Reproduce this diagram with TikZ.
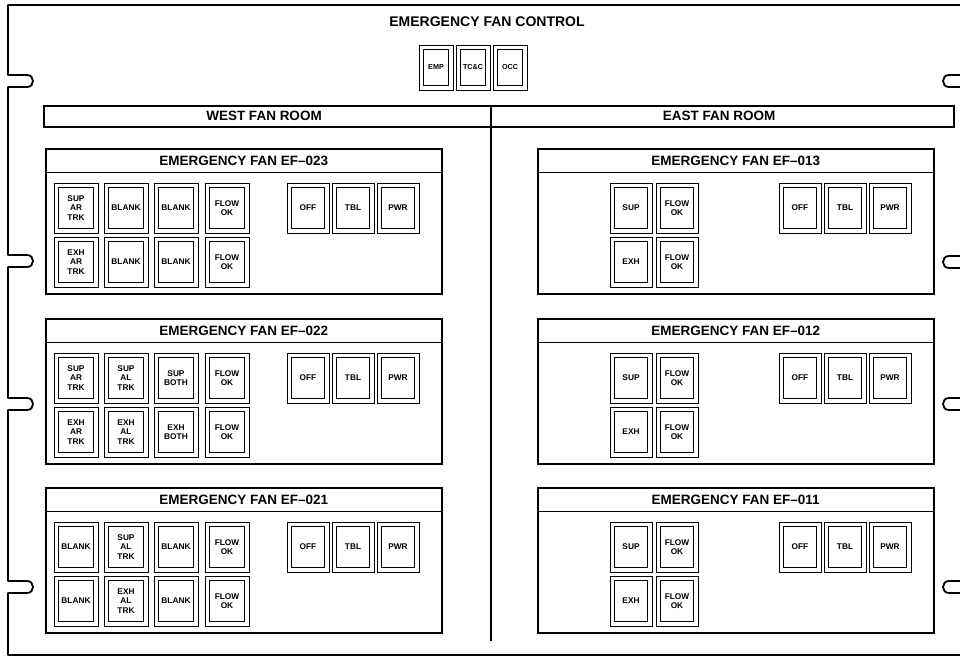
\documentclass[tikz,border=0pt]{standalone}
\usepackage{fontspec}
\setmainfont{Liberation Sans}
\newcommand\fbtn[6]{% name, x, y, w, h, text
  \node[btnout, minimum width=#4pt, minimum height=#5pt] (#1) at (#2,#3) {};
  \node[btnin, minimum width=#4pt-9pt, minimum height=#5pt-9pt] (#1-in) at (#1.center) {#6};
}
\newcommand\fpanel[4]{% name, x0, y0, title
  \node[panelbox, minimum width=396pt, minimum height=145pt, anchor=north west] (#1) at (#2,#3) {};
  \node[panelbar, minimum width=396pt, minimum height=24pt, anchor=north west] (#1-bar) at (#2,#3) {#4};
}
\newcommand\smalltxt{\fontsize{7.2}{8}\selectfont}
\begin{document}
\begin{tikzpicture}[x=1pt,y=-1pt,
  frame/.style={line width=1.8pt, line join=round},
  panelbox/.style={draw, line width=1.8pt, inner sep=0pt},
  panelbar/.style={draw, line width=1.4pt, inner sep=0pt, font=\fontsize{13.5}{14}\selectfont\bfseries},
  hdr/.style={inner sep=0pt, font=\fontsize{13.5}{14}\selectfont\bfseries},
  btnout/.style={draw, line width=0.9pt, inner sep=0pt},
  btnin/.style={draw, line width=1.6pt, inner sep=0pt, align=center,
    font=\fontsize{8.3}{9.3}\selectfont\bfseries},
]
\useasboundingbox (0,0) rectangle (960,659);
% outer frame
\draw[frame] (961,5) -- (8,5) -- (8,75) -- (27,75) .. controls (35,75) and (35,87) .. (27,87) -- (8,87)
  -- (8,255) -- (27,255) .. controls (35,255) and (35,267) .. (27,267) -- (8,267)
  -- (8,398) -- (27,398) .. controls (35,398) and (35,410) .. (27,410) -- (8,410)
  -- (8,581) -- (27,581) .. controls (35,581) and (35,593) .. (27,593) -- (8,593)
  -- (8,655) -- (961,655)
  -- (961,593) -- (949,593) .. controls (941,593) and (941,581) .. (949,581) -- (961,581)
  -- (961,410) -- (949,410) .. controls (941,410) and (941,398) .. (949,398) -- (961,398)
  -- (961,268) -- (949,268) .. controls (941,268) and (941,256) .. (949,256) -- (961,256)
  -- (961,87) -- (949,87) .. controls (941,87) and (941,75) .. (949,75) -- (961,75) -- cycle;
% title
\node[hdr, font=\fontsize{14}{14}\selectfont\bfseries] (title) at (487,22) {EMERGENCY FAN CONTROL};
\fbtn{emp}{436}{67.5}{34}{45}{\smalltxt EMP}
\fbtn{tcc}{473}{67.5}{34}{45}{\smalltxt TC\&C}
\fbtn{occ}{510}{67.5}{34}{45}{\smalltxt OCC}
% room header
\node[panelbox, minimum width=910pt, minimum height=21pt, anchor=north west] (rooms) at (43,105) {};
\coordinate (divtop) at (491,105);
\coordinate (divbot) at (491,641);
\draw[line width=1.5pt] (divtop) -- (divbot);
\node[hdr] (west) at (264,115.5) {WEST FAN ROOM};
\node[hdr] (east) at (719,115.5) {EAST FAN ROOM};
% west panels
\fpanel{p23}{45}{148}{EMERGENCY FAN EF–023}
\fpanel{p22}{45}{318}{EMERGENCY FAN EF–022}
\fpanel{p21}{45}{487}{EMERGENCY FAN EF–021}
% EF-023
\fbtn{a1}{76}{208}{44}{50}{SUP\\AR\\TRK}
\fbtn{a2}{126}{208}{44}{50}{BLANK}
\fbtn{a3}{176}{208}{44}{50}{BLANK}
\fbtn{a4}{227}{208}{44}{50}{FLOW\\OK}
\fbtn{a5}{76}{262}{44}{50}{EXH\\AR\\TRK}
\fbtn{a6}{126}{262}{44}{50}{BLANK}
\fbtn{a7}{176}{262}{44}{50}{BLANK}
\fbtn{a8}{227}{262}{44}{50}{FLOW\\OK}
\fbtn{a9}{308}{208}{42}{50}{OFF}
\fbtn{a10}{353}{208}{42}{50}{TBL}
\fbtn{a11}{398}{208}{42}{50}{PWR}
% EF-022
\fbtn{b1}{76}{378}{44}{50}{SUP\\AR\\TRK}
\fbtn{b2}{126}{378}{44}{50}{SUP\\AL\\TRK}
\fbtn{b3}{176}{378}{44}{50}{SUP\\BOTH}
\fbtn{b4}{227}{378}{44}{50}{FLOW\\OK}
\fbtn{b5}{76}{432}{44}{50}{EXH\\AR\\TRK}
\fbtn{b6}{126}{432}{44}{50}{EXH\\AL\\TRK}
\fbtn{b7}{176}{432}{44}{50}{EXH\\BOTH}
\fbtn{b8}{227}{432}{44}{50}{FLOW\\OK}
\fbtn{b9}{308}{378}{42}{50}{OFF}
\fbtn{b10}{353}{378}{42}{50}{TBL}
\fbtn{b11}{398}{378}{42}{50}{PWR}
% EF-021
\fbtn{c1}{76}{547}{44}{50}{BLANK}
\fbtn{c2}{126}{547}{44}{50}{SUP\\AL\\TRK}
\fbtn{c3}{176}{547}{44}{50}{BLANK}
\fbtn{c4}{227}{547}{44}{50}{FLOW\\OK}
\fbtn{c5}{76}{601}{44}{50}{BLANK}
\fbtn{c6}{126}{601}{44}{50}{EXH\\AL\\TRK}
\fbtn{c7}{176}{601}{44}{50}{BLANK}
\fbtn{c8}{227}{601}{44}{50}{FLOW\\OK}
\fbtn{c9}{308}{547}{42}{50}{OFF}
\fbtn{c10}{353}{547}{42}{50}{TBL}
\fbtn{c11}{398}{547}{42}{50}{PWR}
% east panels
\fpanel{p13}{537}{148}{EMERGENCY FAN EF–013}
\fpanel{p12}{537}{318}{EMERGENCY FAN EF–012}
\fpanel{p11}{537}{487}{EMERGENCY FAN EF–011}
\fbtn{d1}{631}{208}{42}{50}{SUP}
\fbtn{d2}{677}{208}{42}{50}{FLOW\\OK}
\fbtn{d3}{631}{262}{42}{50}{EXH}
\fbtn{d4}{677}{262}{42}{50}{FLOW\\OK}
\fbtn{d5}{800}{208}{42}{50}{OFF}
\fbtn{d6}{845}{208}{42}{50}{TBL}
\fbtn{d7}{890}{208}{42}{50}{PWR}
\fbtn{e1}{631}{378}{42}{50}{SUP}
\fbtn{e2}{677}{378}{42}{50}{FLOW\\OK}
\fbtn{e3}{631}{432}{42}{50}{EXH}
\fbtn{e4}{677}{432}{42}{50}{FLOW\\OK}
\fbtn{e5}{800}{378}{42}{50}{OFF}
\fbtn{e6}{845}{378}{42}{50}{TBL}
\fbtn{e7}{890}{378}{42}{50}{PWR}
\fbtn{f1}{631}{547}{42}{50}{SUP}
\fbtn{f2}{677}{547}{42}{50}{FLOW\\OK}
\fbtn{f3}{631}{601}{42}{50}{EXH}
\fbtn{f4}{677}{601}{42}{50}{FLOW\\OK}
\fbtn{f5}{800}{547}{42}{50}{OFF}
\fbtn{f6}{845}{547}{42}{50}{TBL}
\fbtn{f7}{890}{547}{42}{50}{PWR}
\end{tikzpicture}
\end{document}
